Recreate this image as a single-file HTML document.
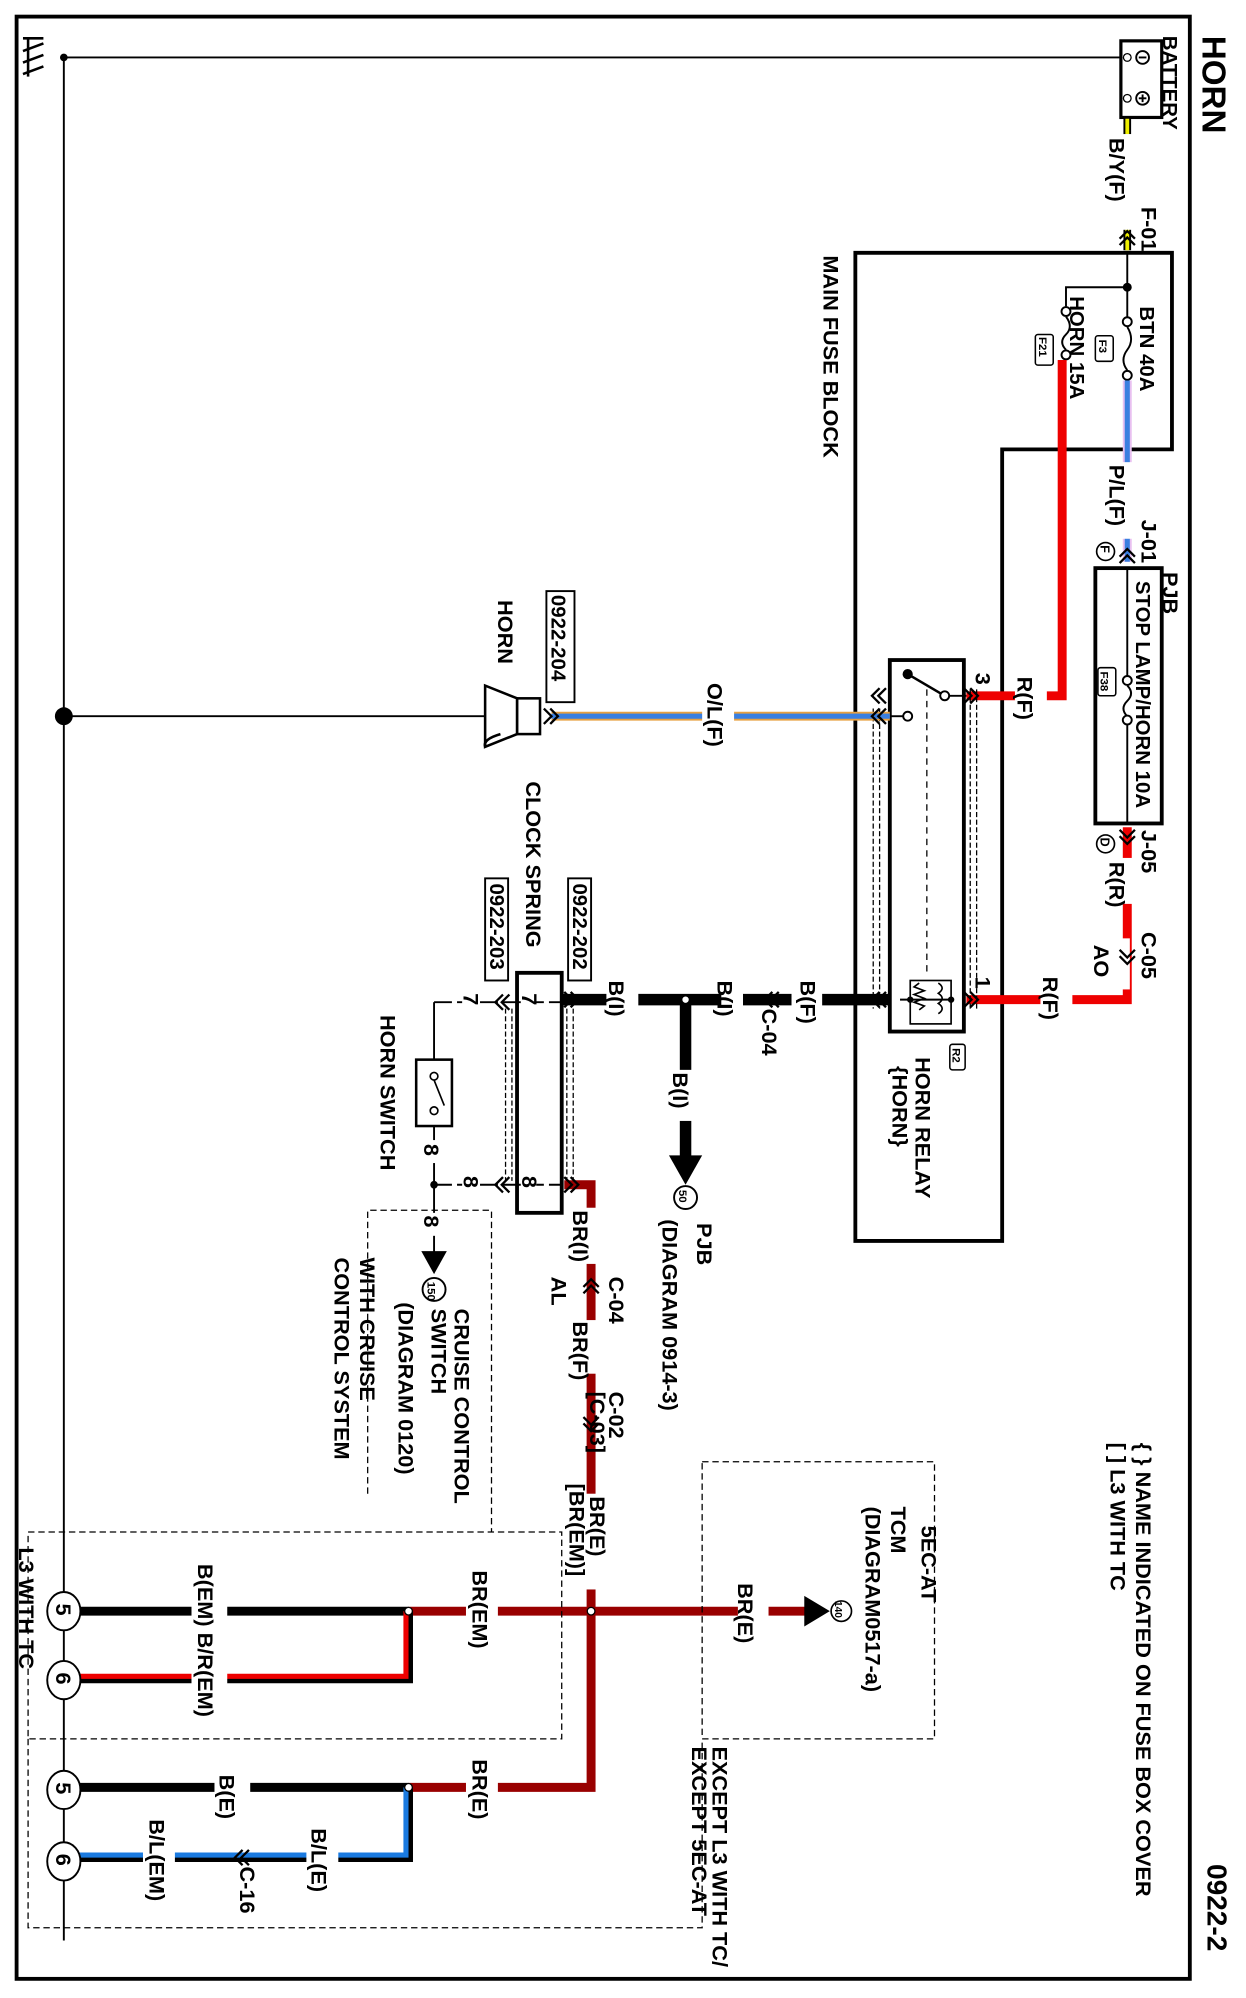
<!DOCTYPE html>
<html><head><meta charset="utf-8"><style>
html,body{margin:0;padding:0;background:#fff;}
svg{display:block;}
text{font-family:"Liberation Sans",sans-serif;font-weight:bold;fill:#000;}
</style></head><body>
<svg width="1246" height="1998" viewBox="0 0 976 1565" preserveAspectRatio="none" xmlns="http://www.w3.org/2000/svg">
<rect x="0" y="0" width="976" height="1565" fill="#fff"/>
<rect x="13" y="13" width="919" height="1537" fill="none" stroke="#000" stroke-width="3"/>
<line x1="50" y1="45" x2="50" y2="1520" stroke="#000" stroke-width="1.5"/>
<line x1="50" y1="45" x2="880" y2="45" stroke="#000" stroke-width="1.5"/>
<circle cx="50" cy="45" r="3" fill="#000"/>
<g stroke="#000" stroke-width="2"><line x1="18" y1="30" x2="34" y2="30"/><line x1="18" y1="40" x2="34" y2="34"/><line x1="18" y1="49" x2="34" y2="43"/><line x1="18" y1="58" x2="34" y2="52"/><line x1="22" y1="30" x2="22" y2="60"/></g>
<rect x="878" y="32" width="32" height="60" fill="#fff" stroke="#000" stroke-width="2.5"/>
<circle cx="895" cy="45" r="5" fill="none" stroke="#000" stroke-width="1.5"/><line x1="892" y1="45" x2="898" y2="45" stroke="#000" stroke-width="1.5"/>
<circle cx="895" cy="77" r="5" fill="none" stroke="#000" stroke-width="1.5"/><line x1="892" y1="77" x2="898" y2="77" stroke="#000" stroke-width="1.5"/><line x1="895" y1="74" x2="895" y2="80" stroke="#000" stroke-width="1.5"/>
<circle cx="883" cy="45" r="3" fill="#fff" stroke="#000"/><circle cx="883" cy="77" r="3" fill="#fff" stroke="#000"/>
<line x1="883" y1="93" x2="883" y2="196" stroke="#000" stroke-width="6"/>
<line x1="883" y1="93" x2="883" y2="196" stroke="#ee0" stroke-width="3"/>
<rect x="864" y="105" width="30" height="75" fill="#fff"/>
<polygon points="670,198 918,198 918,352 785,352 785,972 670,972" fill="none" stroke="#000" stroke-width="3"/>
<line x1="883" y1="198" x2="883" y2="248" stroke="#000" stroke-width="1.5"/>
<circle cx="883" cy="225" r="3.5" fill="#000"/>
<polyline points="883,225 835,225 835,240" fill="none" stroke="#000" stroke-width="1.5"/>
<circle cx="883" cy="252" r="3.5" fill="#fff" stroke="#000" stroke-width="1.5"/>
<path d="M883,256 q6,10 0,18 q-6,8 0,16" fill="none" stroke="#000" stroke-width="1.5"/>
<circle cx="883" cy="294" r="3.5" fill="#fff" stroke="#000" stroke-width="1.5"/>
<circle cx="835" cy="244" r="3.5" fill="#fff" stroke="#000" stroke-width="1.5"/>
<path d="M835,248 q6,8 0,14 q-6,6 0,12" fill="none" stroke="#000" stroke-width="1.5"/>
<circle cx="835" cy="278" r="3.5" fill="#fff" stroke="#000" stroke-width="1.5"/>
<rect x="858" y="263" width="14" height="20" rx="2" fill="#fff" stroke="#000" stroke-width="1.2"/>
<rect x="811" y="262" width="14" height="24" rx="2" fill="#fff" stroke="#000" stroke-width="1.2"/>
<line x1="883" y1="298" x2="883" y2="440" stroke="#e8c0f0" stroke-width="7"/>
<line x1="883" y1="298" x2="883" y2="440" stroke="#3a7fe0" stroke-width="4"/>
<rect x="864" y="362" width="30" height="60" fill="#fff"/>
<rect x="858" y="445" width="52" height="200" fill="none" stroke="#000" stroke-width="3"/>
<line x1="883" y1="445" x2="883" y2="530" stroke="#000" stroke-width="1.5"/>
<circle cx="883" cy="533" r="3.5" fill="#fff" stroke="#000" stroke-width="1.5"/>
<path d="M883,537 q6,6 0,12 q-6,6 0,12" fill="none" stroke="#000" stroke-width="1.5"/>
<circle cx="883" cy="564" r="3.5" fill="#fff" stroke="#000" stroke-width="1.5"/>
<line x1="883" y1="568" x2="883" y2="645" stroke="#000" stroke-width="1.5"/>
<rect x="860" y="523" width="14" height="22" rx="2" fill="#fff" stroke="#000" stroke-width="1.2"/>
<circle cx="866" cy="432" r="7" fill="#fff" stroke="#000" stroke-width="1.3"/>
<circle cx="866" cy="661" r="7" fill="#fff" stroke="#000" stroke-width="1.3"/>
<polyline points="832,282 832,545 757,545" fill="none" stroke="#e00" stroke-width="7"/>
<rect x="795" y="528" width="25" height="45" fill="#fff"/>
<polyline points="883,648 883,783 757,783" fill="none" stroke="#e00" stroke-width="7"/>
<rect x="864" y="672" width="30" height="36" fill="#fff"/>
<rect x="855" y="735" width="30" height="40" fill="#fff"/>
<rect x="815" y="762" width="25" height="50" fill="#fff"/>
<rect x="697" y="517" width="58" height="291" fill="#fff" stroke="#000" stroke-width="3"/>
<line x1="711" y1="528" x2="740" y2="545" stroke="#000" stroke-width="2"/>
<circle cx="711" cy="528" r="4" fill="#000"/>
<circle cx="740" cy="545" r="3.5" fill="#fff" stroke="#000" stroke-width="1.5"/>
<circle cx="711" cy="561" r="3.5" fill="#fff" stroke="#000" stroke-width="1.5"/>
<line x1="744" y1="545" x2="757" y2="545" stroke="#000" stroke-width="1.5"/>
<line x1="697" y1="561" x2="708" y2="561" stroke="#000" stroke-width="1.5"/>
<line x1="726" y1="540" x2="726" y2="765" stroke="#000" stroke-width="1" stroke-dasharray="5,4"/>
<line x1="705" y1="783" x2="745" y2="783" stroke="#000" stroke-width="1.5"/>
<rect x="713" y="768" width="32" height="34" fill="none" stroke="#000" stroke-width="1.3"/>
<path d="M735,770 q6,4 0,8 q6,4 0,8 q6,4 0,8" fill="none" stroke="#000" stroke-width="1.3"/>
<path d="M720,770 l-4,3 l8,3 l-8,3 l8,3 l-8,3 l8,3 l-4,3" fill="none" stroke="#000" stroke-width="1.3"/>
<circle cx="713" cy="783" r="2.5" fill="#000"/><circle cx="745" cy="783" r="2.5" fill="#000"/>
<rect x="744" y="818" width="12" height="20" rx="2" fill="#fff" stroke="#000" stroke-width="1.2"/>
<g stroke="#000" stroke-width="1" stroke-dasharray="4,2"><line x1="684" y1="555" x2="684" y2="790"/><line x1="689" y1="555" x2="689" y2="790"/><line x1="760" y1="540" x2="760" y2="790"/><line x1="765" y1="540" x2="765" y2="790"/></g>
<line x1="697" y1="561" x2="432" y2="561" stroke="#e8a040" stroke-width="7"/>
<line x1="697" y1="561" x2="432" y2="561" stroke="#3a7fe0" stroke-width="4"/>
<rect x="550" y="530" width="25" height="60" fill="#fff"/>
<line x1="380" y1="561" x2="50" y2="561" stroke="#000" stroke-width="1.5"/>
<circle cx="50" cy="561" r="7" fill="#000"/>
<rect x="405" y="547" width="18" height="28" fill="#fff" stroke="#000" stroke-width="2"/>
<polygon points="405,547 380,537 380,585 405,575" fill="#fff" stroke="#000" stroke-width="2"/>
<path d="M392,575 q-14,4 -12,10" fill="none" stroke="#000" stroke-width="2"/>
<rect x="428" y="463" width="22" height="87" fill="#fff" stroke="#000" stroke-width="1.5"/>
<line x1="697" y1="783" x2="440" y2="783" stroke="#000" stroke-width="9"/>
<rect x="620" y="768" width="24" height="40" fill="#fff"/>
<rect x="565" y="768" width="17" height="40" fill="#fff"/>
<rect x="475" y="768" width="25" height="40" fill="#fff"/>
<line x1="537" y1="783" x2="537" y2="913" stroke="#000" stroke-width="9"/>
<rect x="525" y="838" width="25" height="40" fill="#fff"/>
<polygon points="524,905 550,905 537,928" fill="#000"/>
<circle cx="537" cy="783" r="3" fill="#fff" stroke="#000"/>
<circle cx="537" cy="938" r="9" fill="#fff" stroke="#000" stroke-width="1.5"/>
<rect x="405" y="762" width="35" height="188" fill="#fff" stroke="#000" stroke-width="3"/>
<g stroke="#000" stroke-width="1" stroke-dasharray="4,2"><line x1="444" y1="790" x2="444" y2="925"/><line x1="449" y1="790" x2="449" y2="925"/><line x1="396" y1="790" x2="396" y2="925"/><line x1="401" y1="790" x2="401" y2="925"/></g>
<rect x="445" y="688" width="18" height="80" fill="#fff" stroke="#000" stroke-width="1.5"/>
<rect x="380" y="688" width="18" height="80" fill="#fff" stroke="#000" stroke-width="1.5"/>
<line x1="340" y1="785" x2="440" y2="785" stroke="#000" stroke-width="1.5" stroke-dasharray="14,4"/>
<line x1="340" y1="928" x2="440" y2="928" stroke="#000" stroke-width="1.5" stroke-dasharray="14,4"/>
<rect x="408" y="775" width="12" height="18" fill="#fff"/><rect x="408" y="918" width="12" height="18" fill="#fff"/>
<rect x="362" y="775" width="12" height="18" fill="#fff"/><rect x="362" y="918" width="12" height="18" fill="#fff"/>
<line x1="340" y1="785" x2="340" y2="830" stroke="#000" stroke-width="1.5"/>
<rect x="326" y="830" width="28" height="52" fill="#fff" stroke="#000" stroke-width="2"/>
<circle cx="340" cy="843" r="3" fill="#fff" stroke="#000" stroke-width="1.3"/><circle cx="340" cy="870" r="3" fill="#fff" stroke="#000" stroke-width="1.3"/>
<line x1="340" y1="846" x2="348" y2="866" stroke="#000" stroke-width="1.3"/>
<line x1="340" y1="882" x2="340" y2="990" stroke="#000" stroke-width="1.5"/>
<circle cx="340" cy="928" r="3" fill="#000"/>
<rect x="330" y="893" width="12" height="18" fill="#fff"/><rect x="330" y="950" width="12" height="18" fill="#fff"/>
<polygon points="330,980 350,980 340,998" fill="#000"/>
<circle cx="340" cy="1010" r="9" fill="#fff" stroke="#000" stroke-width="1.5"/>
<polyline points="442,928 463,928 463,1400 320,1400" fill="none" stroke="#900" stroke-width="7"/>
<rect x="448" y="946" width="25" height="44" fill="#fff"/>
<rect x="448" y="1034" width="25" height="42" fill="#fff"/>
<rect x="448" y="1170" width="25" height="75" fill="#fff"/>
<line x1="320" y1="1262" x2="640" y2="1262" stroke="#900" stroke-width="7"/>
<rect x="578" y="1238" width="24" height="44" fill="#fff"/>
<rect x="365" y="1228" width="25" height="66" fill="#fff"/>
<rect x="365" y="1375" width="25" height="48" fill="#fff"/>
<polygon points="630,1250 630,1274 650,1262" fill="#000"/>
<circle cx="659" cy="1262" r="8" fill="#fff" stroke="#000" stroke-width="1.3"/>
<circle cx="463" cy="1262" r="3" fill="#fff" stroke="#000"/>
<line x1="50" y1="1262" x2="320" y2="1262" stroke="#000" stroke-width="7"/>
<polyline points="320,1262 320,1315 50,1315" fill="none" stroke="#000" stroke-width="7"/>
<polyline points="318,1262 318,1313 50,1313" fill="none" stroke="#e00" stroke-width="4"/>
<rect x="150" y="1225" width="28" height="120" fill="#fff"/>
<circle cx="320" cy="1262" r="3" fill="#fff" stroke="#000"/>
<line x1="50" y1="1400" x2="320" y2="1400" stroke="#000" stroke-width="7"/>
<polyline points="320,1400 320,1455 50,1455" fill="none" stroke="#000" stroke-width="7"/>
<polyline points="318,1400 318,1453 50,1453" fill="none" stroke="#1a7ae0" stroke-width="4"/>
<rect x="168" y="1388" width="28" height="44" fill="#fff"/>
<rect x="240" y="1430" width="25" height="50" fill="#fff"/>
<rect x="112" y="1425" width="25" height="60" fill="#fff"/>
<circle cx="320" cy="1400" r="3" fill="#fff" stroke="#000"/>
<g fill="#fff" stroke="#000" stroke-width="1.5">
<ellipse cx="50" cy="1262" rx="13" ry="15"/><ellipse cx="50" cy="1316" rx="13" ry="15"/>
<ellipse cx="50" cy="1402" rx="13" ry="15"/><ellipse cx="50" cy="1458" rx="13" ry="15"/></g>
<!-- connector chevrons as paths -->
<g fill="none" stroke="#000" stroke-width="1.8">
<!-- vertical wires, pointing up -->
<path d="M877,187 l6,-6 l6,6 M877,192 l6,-6 l6,6"/>
<path d="M877,436 l6,-6 l6,6 M877,441 l6,-6 l6,6"/>
<path d="M457,1008 l6,-6 l6,6 M457,1013 l6,-6 l6,6"/>
<!-- pointing down -->
<path d="M877,650 l6,6 l6,-6 M877,655 l6,6 l6,-6"/>
<path d="M877,744 l6,6 l6,-6 M877,749 l6,6 l6,-6"/>
<path d="M457,1110 l6,6 l6,-6 M457,1115 l6,6 l6,-6"/>
<!-- horizontal, pointing left -->
<path d="M689,539 l-6,6 l6,6 M694,539 l-6,6 l6,6"/>
<path d="M689,555 l-6,6 l6,6 M694,555 l-6,6 l6,6"/>
<path d="M689,777 l-6,6 l6,6 M694,777 l-6,6 l6,6"/>
<path d="M605,777 l-6,6 l6,6 M610,777 l-6,6 l6,6"/>
<path d="M394,779 l-6,6 l6,6 M399,779 l-6,6 l6,6"/>
<path d="M394,922 l-6,6 l6,6 M399,922 l-6,6 l6,6"/>
<path d="M190,1449 l-6,6 l6,6 M195,1449 l-6,6 l6,6"/>
<!-- pointing right -->
<path d="M760,539 l6,6 l-6,6 M755,539 l6,6 l-6,6"/>
<path d="M760,777 l6,6 l-6,6 M755,777 l6,6 l-6,6"/>
<path d="M431,555 l6,6 l-6,6 M426,555 l6,6 l-6,6"/>
<path d="M447,777 l6,6 l-6,6 M442,777 l6,6 l-6,6"/>
<path d="M447,922 l6,6 l-6,6 M442,922 l6,6 l-6,6"/>
</g>
<g fill="none" stroke="#000" stroke-width="1" stroke-dasharray="5,3">
<polyline points="288,1170 288,948 385,948 385,1200"/>
<rect x="22" y="1200" width="418" height="162"/>
<rect x="550" y="1145" width="182" height="217"/>
<polyline points="22,1362 22,1510 550,1510 550,1362"/>
</g>
<g font-size="17">
<text transform="translate(942,28) rotate(90)" font-size="26">HORN</text>
<text transform="translate(946,1460) rotate(90)" font-size="22">0922-2</text>
<text transform="translate(911,28) rotate(90)" font-size="16">BATTERY</text>
<text transform="translate(869,108) rotate(90)">B/Y(F)</text>
<text transform="translate(894,162) rotate(90)">F-01</text>
<text transform="translate(893,240) rotate(90)" font-size="16">BTN 40A</text>
<text transform="translate(838,232) rotate(90)" font-size="16">HORN 15A</text>
<text transform="translate(861,266) rotate(90)" font-size="9">F3</text>
<text transform="translate(814,264) rotate(90)" font-size="9">F21</text>
<text transform="translate(645,200) rotate(90)">MAIN FUSE BLOCK</text>
<text transform="translate(869,364) rotate(90)">P/L(F)</text>
<text transform="translate(894,407) rotate(90)">J-01</text>
<text transform="translate(862,427) rotate(90)" font-size="10">F</text>
<text transform="translate(911,448) rotate(90)">PJB</text>
<text transform="translate(890,455) rotate(90)" font-size="16">STOP LAMP/HORN 10A</text>
<text transform="translate(862,526) rotate(90)" font-size="9">F38</text>
<text transform="translate(764,527) rotate(90)">3</text>
<text transform="translate(797,530) rotate(90)">R(F)</text>
<text transform="translate(554,535) rotate(90)">O/L(F)</text>
<text transform="translate(390,470) rotate(90)">HORN</text>
<text transform="translate(432,466) rotate(90)" font-size="16">0922-204</text>
<text transform="translate(894,650) rotate(90)">J-05</text>
<text transform="translate(862,656) rotate(90)" font-size="10">D</text>
<text transform="translate(869,675) rotate(90)">R(R)</text>
<text transform="translate(894,730) rotate(90)">C-05</text>
<text transform="translate(857,740) rotate(90)">AO</text>
<text transform="translate(817,765) rotate(90)">R(F)</text>
<text transform="translate(764,765) rotate(90)">1</text>
<text transform="translate(627,768) rotate(90)">B(F)</text>
<text transform="translate(597,790) rotate(90)">C-04</text>
<text transform="translate(562,768) rotate(90)">B(I)</text>
<text transform="translate(477,768) rotate(90)">B(I)</text>
<text transform="translate(527,840) rotate(90)">B(I)</text>
<text transform="translate(546,958) rotate(90)">PJB</text>
<text transform="translate(519,955) rotate(90)">(DIAGRAM 0914-3)</text>
<text transform="translate(532,932) rotate(90)" font-size="9">50</text>
<text transform="translate(717,828) rotate(90)">HORN RELAY</text>
<text transform="translate(699,835) rotate(90)">{HORN}</text>
<text transform="translate(746,821) rotate(90)" font-size="9">R2</text>
<text transform="translate(412,612) rotate(90)">CLOCK SPRING</text>
<text transform="translate(449,692) rotate(90)" font-size="16">0922-202</text>
<text transform="translate(384,692) rotate(90)" font-size="16">0922-203</text>
<text transform="translate(409,778) rotate(90)">7</text>
<text transform="translate(409,921) rotate(90)">8</text>
<text transform="translate(363,778) rotate(90)">7</text>
<text transform="translate(363,921) rotate(90)">8</text>
<text transform="translate(332,896) rotate(90)">8</text>
<text transform="translate(332,952) rotate(90)">8</text>
<text transform="translate(298,795) rotate(90)">HORN SWITCH</text>
<text transform="translate(335,1004) rotate(90)" font-size="9">150</text>
<text transform="translate(449,948) rotate(90)">BR(I)</text>
<text transform="translate(432,1000) rotate(90)">AL</text>
<text transform="translate(477,1000) rotate(90)">C-04</text>
<text transform="translate(449,1035) rotate(90)">BR(F)</text>
<text transform="translate(477,1090) rotate(90)">C-02</text>
<text transform="translate(462,1090) rotate(90)">[C-03]</text>
<text transform="translate(462,1172) rotate(90)">BR(E)</text>
<text transform="translate(446,1162) rotate(90)">[BR(EM)]</text>
<text transform="translate(356,1025) rotate(90)">CRUISE CONTROL</text>
<text transform="translate(338,1025) rotate(90)">SWITCH</text>
<text transform="translate(312,1020) rotate(90)">(DIAGRAM 0120)</text>
<text transform="translate(282,985) rotate(90)">WITH CRUISE</text>
<text transform="translate(262,985) rotate(90)">CONTROL SYSTEM</text>
<text transform="translate(722,1195) rotate(90)">5EC-AT</text>
<text transform="translate(698,1180) rotate(90)">TCM</text>
<text transform="translate(678,1180) rotate(90)">(DIAGRAM0517-a)</text>
<text transform="translate(654,1254) rotate(90)" font-size="8">140</text>
<text transform="translate(578,1240) rotate(90)">BR(E)</text>
<text transform="translate(370,1230) rotate(90)">BR(EM)</text>
<text transform="translate(155,1225) rotate(90)">B(EM) B/R(EM)</text>
<text transform="translate(15,1212) rotate(90)">L3 WITH TC</text>
<text transform="translate(370,1378) rotate(90)">BR(E)</text>
<text transform="translate(172,1390) rotate(90)">B(E)</text>
<text transform="translate(244,1432) rotate(90)">B/L(E)</text>
<text transform="translate(188,1462) rotate(90)">C-16</text>
<text transform="translate(117,1425) rotate(90)">B/L(EM)</text>
<text transform="translate(558,1368) rotate(90)">EXCEPT L3 WITH TC/</text>
<text transform="translate(542,1368) rotate(90)">EXCEPT 5EC-AT</text>
<text transform="translate(890,1130) rotate(90)">{ } NAME INDICATED ON FUSE BOX COVER</text>
<text transform="translate(870,1130) rotate(90)">[ ] L3 WITH TC</text>
<text transform="translate(44,1256) rotate(90)">5</text>
<text transform="translate(44,1310) rotate(90)">6</text>
<text transform="translate(44,1396) rotate(90)">5</text>
<text transform="translate(44,1452) rotate(90)">6</text>
</g>
</svg>
</body></html>
